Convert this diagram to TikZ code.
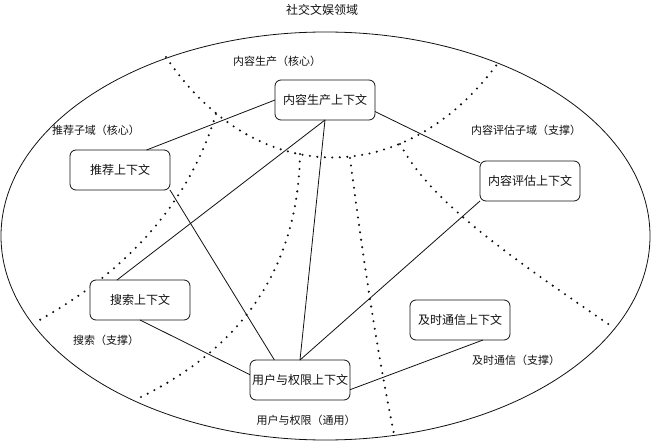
\documentclass[tikz,border=0pt]{standalone}
\usepackage{fontspec}
\usepackage{tikz}
\newfontfamily\cjk{Noto Sans CJK SC}
\definecolor{cInk}{HTML}{111111}
\tikzset{
  ctx/.style={rectangle,rounded corners=6pt,draw=cInk,line width=0.8pt,minimum width=100pt,minimum height=40pt,font=\cjk\fontsize{12}{14}\selectfont,text=cInk,fill=white,inner sep=0pt,outer sep=0pt},
  zone/.style={font=\cjk\fontsize{11}{13}\selectfont,text=cInk,inner sep=0pt},
  rel/.style={draw=cInk,line width=0.8pt},
  zoneline/.style={draw=cInk,line width=2.3pt,line cap=round,dash pattern=on 0pt off 7.5pt},
}

\begin{document}
\begin{tikzpicture}[x=1pt,y=-1pt]
  \useasboundingbox (0,0) rectangle (651,441);
  \node[zone,font=\cjk\fontsize{12}{14}\selectfont] (dTitle) at (322,10) {社交文娱领域};
  \draw[rel] (325.5,236) ellipse [x radius=324.5, y radius=204];
  % subdomain borders
  \draw[zoneline] (166,57) .. controls (255,190) and (405,190) .. (498,63);
  \draw[zoneline] (216,114) .. controls (190,200) and (130,270) .. (36,322);
  \draw[zoneline] (300,154) .. controls (298,270) and (240,350) .. (135,400);
  \draw[zoneline] (350,158) .. controls (362,250) and (375,340) .. (394,434);
  \draw[zoneline] (400,144) .. controls (430,200) and (500,250) .. (614,328);
  % bounded contexts
  \node[ctx] (nr) at (325,100) {内容生产上下文};
  \node[ctx] (tj) at (120,170) {推荐上下文};
  \node[ctx] (pg) at (530,181) {内容评估上下文};
  \node[ctx] (ss) at (140,300) {搜索上下文};
  \node[ctx] (js) at (460,320) {及时通信上下文};
  \node[ctx] (yh) at (300,380) {用户与权限上下文};
  % subdomain names
  \node[zone] (lNr) at (277,61) {内容生产（核心）};
  \node[zone] (lTj) at (96,130) {推荐子域（核心）};
  \node[zone] (lPg) at (526,130) {内容评估子域（支撑）};
  \node[zone] (lSs) at (106,340) {搜索（支撑）};
  \node[zone] (lJs) at (516,360) {及时通信（支撑）};
  \node[zone] (lYh) at (306,420) {用户与权限（通用）};
  % relations
  \draw[rel] (nr.west) -- (tj.37);
  \draw[rel] (nr.-13) -- (pg.160);
  \draw[rel] (nr.south) -- (ss.139);
  \draw[rel] (nr.south) -- (yh.north);
  \draw[rel] (tj.south east) -- (yh.142);
  \draw[rel] (pg.south west) -- (yh.north);
  \draw[rel] (ss.south) -- (yh.174);
  \draw[rel] (js.-41) -- (yh.-11);
\end{tikzpicture}
\end{document}
